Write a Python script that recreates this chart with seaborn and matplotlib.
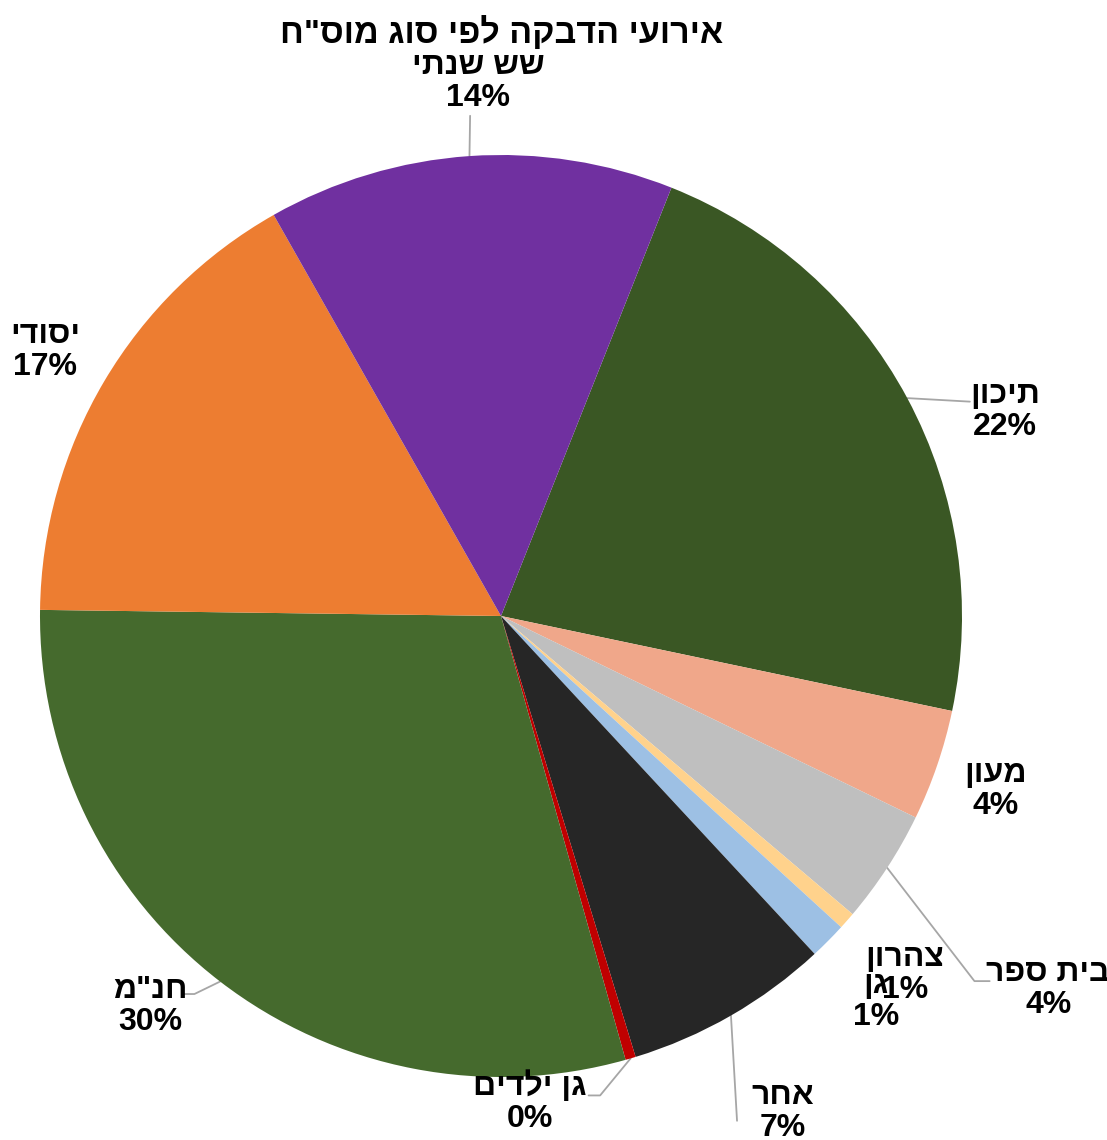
import numpy as np
import seaborn as sns
import matplotlib.pyplot as plt

# ---------------- Data ---------------- #
# Hebrew names (logical order); reversed for display since matplotlib has no bidi
categories = ['תיכון', 'מעון', 'בית ספר', 'צהרון', 'גן', 'אחר', 'גן ילדים', 'חנ"מ', 'יסודי', 'שש שנתי']
shares = [22.3, 3.9, 4.0, 0.6, 1.3, 7.2, 0.36, 29.6, 16.6, 14.25]
colors = ['#3A5724', '#F0A78A', '#BFBFBF', '#FFD28C', '#9DC0E4', '#262626',
          '#C00000', '#456A2D', '#ED7D31', '#7030A0']
title = 'אירועי הדבקה לפי סוג מוס"ח'

# label layout (data coords, pie radius = 1) and leader line end points (None = no line)
label_pos = [(1.093, 0.445), (1.072, -0.377), (1.187, -0.809), (0.876, -0.777),
             (0.813, -0.835), (0.612, -1.076), (0.063, -1.054), (-0.761, -0.846),
             (-0.989, 0.575), (-0.050, 1.158)]
leader_pts = [[(1.017, 0.465)],
              None,
              [(1.027, -0.792), (1.060, -0.792)],
              None,
              None,
              [(0.512, -1.095)],
              [(0.215, -1.040), (0.190, -1.040)],
              [(-0.665, -0.820), (-0.690, -0.820)],
              None,
              [(-0.067, 1.085)]]


def rtl(s):
    return s[::-1]


sns.set_theme(style='white')
plt.rcParams['font.family'] = ['Liberation Sans', 'DejaVu Sans']

fig = plt.figure(figsize=(11.07, 11.40), dpi=100)
ax = fig.add_axes([40 / 1107, 63 / 1140, 922 / 1107, 922 / 1140])

total = sum(shares)
wedges, _ = ax.pie(shares, colors=colors, startangle=68.3, counterclock=False,
                   radius=1, wedgeprops=dict(linewidth=0))
ax.set_xlim(-1, 1)
ax.set_ylim(-1, 1)
ax.set_aspect('equal')
ax.axis('off')

for w, name, val, pos, pts in zip(wedges, categories, shares, label_pos, leader_pts):
    pct = int(round(val / total * 100 + 1e-9))
    ax.text(pos[0], pos[1], f'{rtl(name)}\n{pct}%', ha='center', va='center',
            fontsize=23, fontweight='bold', color='black', linespacing=1.1)
    if pts:
        mid = np.deg2rad((w.theta1 + w.theta2) / 2)
        xs = [np.cos(mid)] + [p[0] for p in pts]
        ys = [np.sin(mid)] + [p[1] for p in pts]
        ax.plot(xs, ys, color='#A6A6A6', lw=1.3, clip_on=False, zorder=0.5)

fig.text(502 / 1107, 1 - 33 / 1140, rtl(title), ha='center', va='center',
         fontsize=24.5, fontweight='bold', color='black')

fig.savefig('out.png', dpi=100, facecolor='white')
